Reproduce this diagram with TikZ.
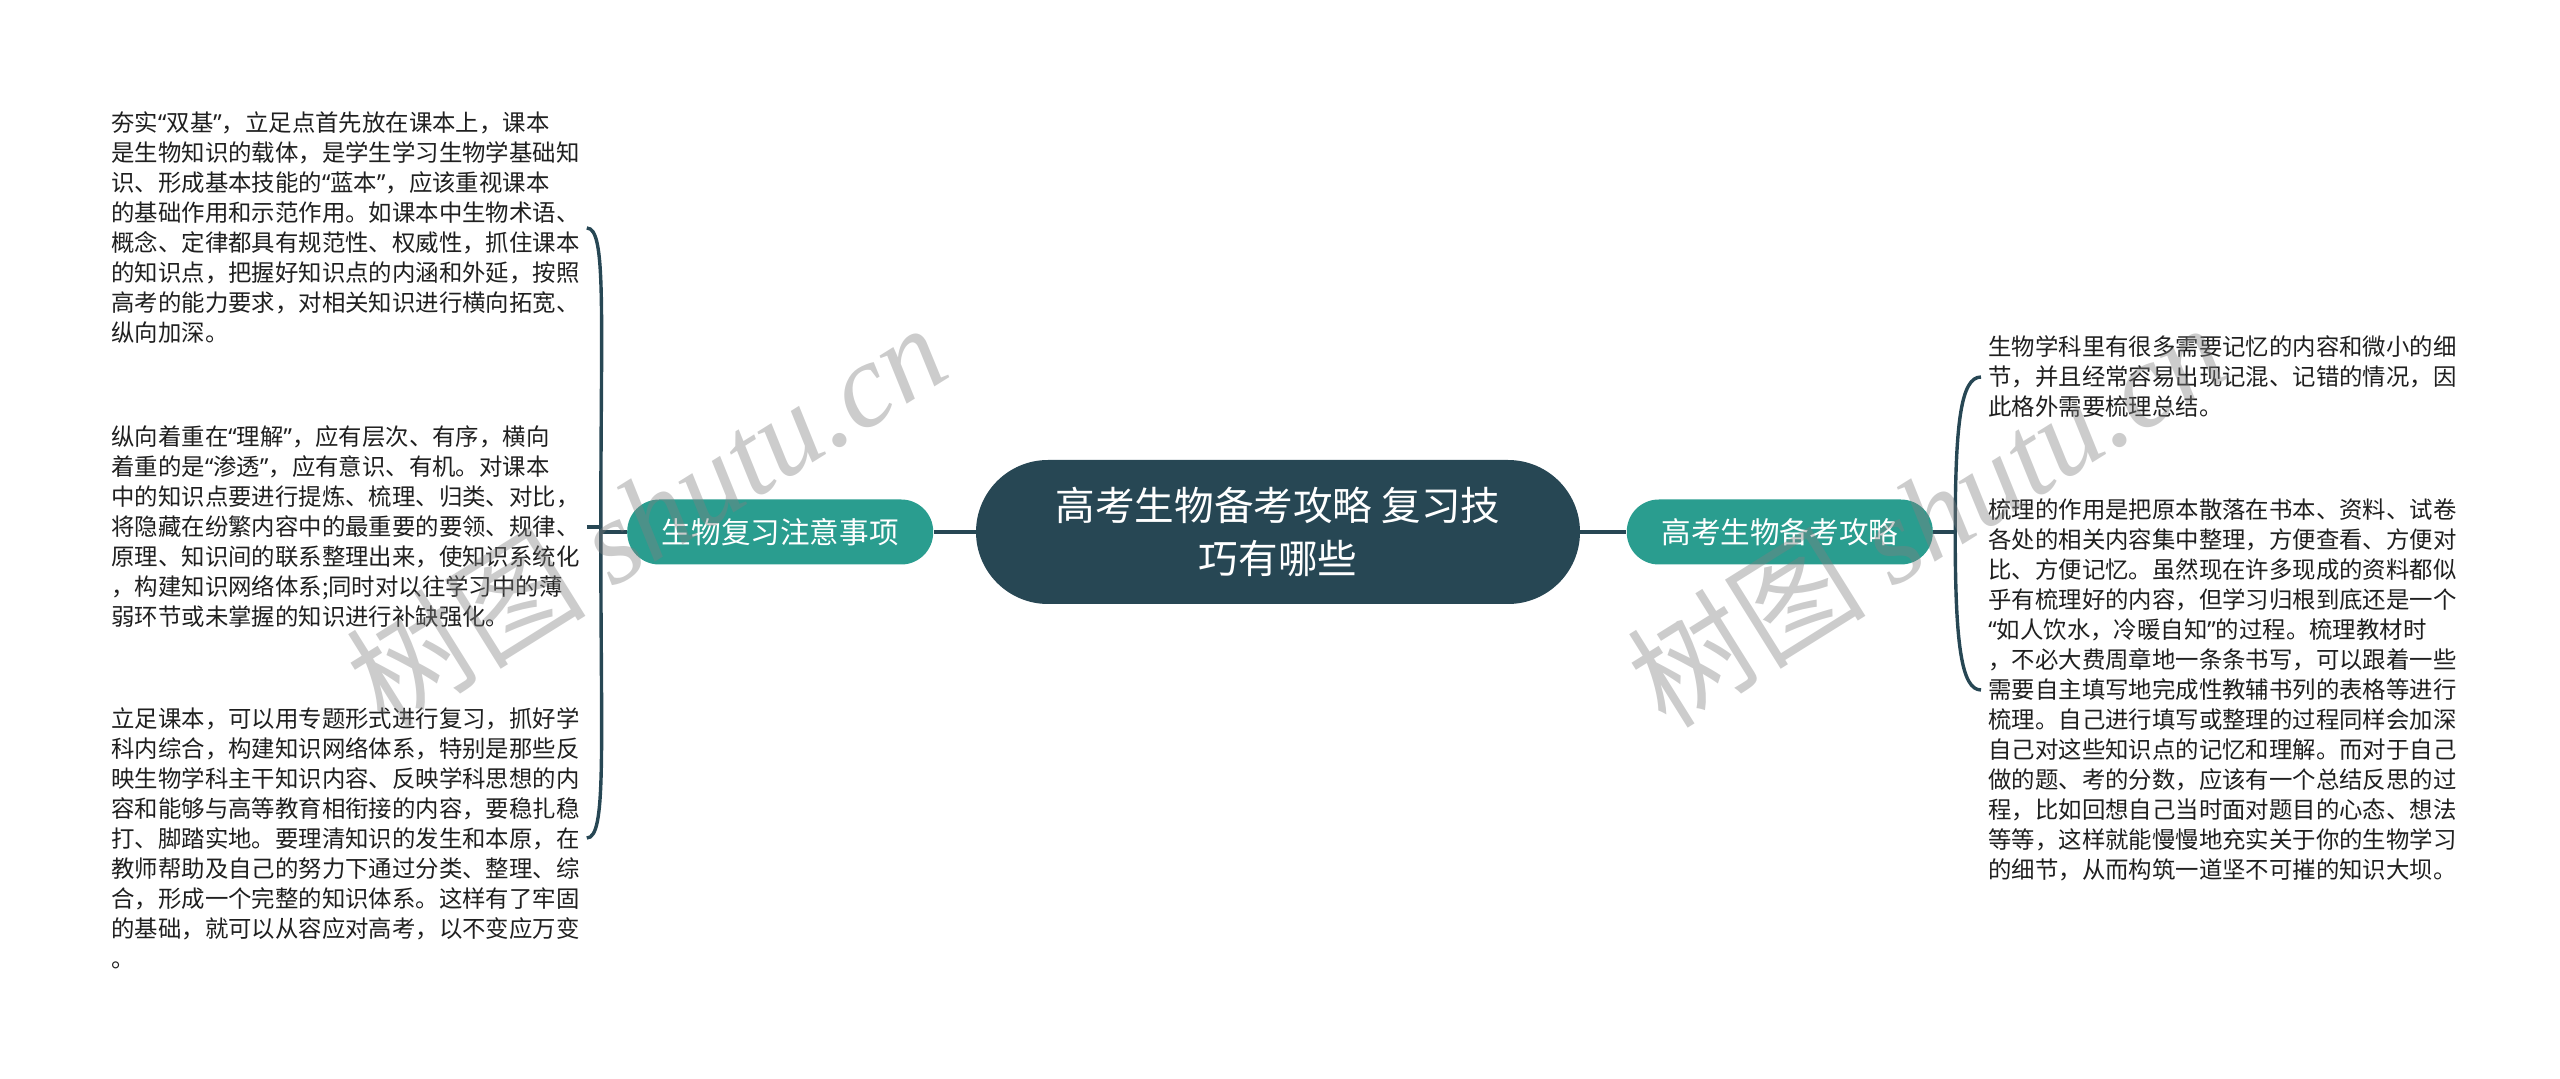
\documentclass[tikz,border=0pt]{standalone}
\usepackage{fontspec}
\setmainfont{Noto Sans CJK SC}
\newfontfamily\wmfont{Liberation Serif}
\newfontfamily\qfont{Noto Sans}
\newcommand\oq{{\qfont “}}
\newcommand\cq{{\qfont ”}}
\usetikzlibrary{positioning}
\definecolor{rootblue}{RGB}{39,71,84}
\definecolor{topicgreen}{RGB}{42,157,143}

\begin{document}
\begin{tikzpicture}[x=0.5pt, y=-0.5pt, node distance=21pt]
		 \tikzstyle{root}  = [rounded corners=36pt, fill=rootblue, text=white, minimum width=302pt, minimum height=72pt, align=center, font=\fontsize{19.8}{26.5}\selectfont];
		 \tikzstyle{topic} = [rounded corners=16pt, fill=topicgreen, text=white, minimum width=153pt, minimum height=32.5pt, font=\fontsize{14.8}{18}\selectfont];
		 \tikzstyle{leaf}  = [anchor=west, align=left, inner xsep=3.5pt, inner ysep=2pt, text=black!88, font=\fontsize{11.7}{15}\selectfont];
		 \tikzstyle{link}  = [color=rootblue, line width=1.7pt];
		 \tikzstyle{wmark} = [rotate=32, text=gray, text opacity=0.4, font=\fontsize{60}{64}\selectfont];

		 \useasboundingbox (0,0) rectangle (2560,1079);

		 \node [root]  (main) at (1278,532)              {高考生物备考攻略 复习技\\巧有哪些};
		 \node [topic] (lt)   [left=21pt of main]        {生物复习注意事项};
		 \node [topic] (rt)   [right=23pt of main]       {高考生物备考攻略};
		 \coordinate   [left=13pt of lt]  (jl);
		 \coordinate   [right=11pt of rt] (jr);

		 \node [leaf] (l1) at (104,228) {夯实\oq 双基\cq ，立足点首先放在课本上，课本\\是生物知识的载体，是学生学习生物学基础知\\识、形成基本技能的\oq 蓝本\cq ，应该重视课本\\的基础作用和示范作用。如课本中生物术语、\\概念、定律都具有规范性、权威性，抓住课本\\的知识点，把握好知识点的内涵和外延，按照\\高考的能力要求，对相关知识进行横向拓宽、\\纵向加深。};
		 \node [leaf] (l2) at (104,527) {纵向着重在\oq 理解\cq ，应有层次、有序，横向\\着重的是\oq 渗透\cq ，应有意识、有机。对课本\\中的知识点要进行提炼、梳理、归类、对比，\\将隐藏在纷繁内容中的最重要的要领、规律、\\原理、知识间的联系整理出来，使知识系统化\\，构建知识网络体系;同时对以往学习中的薄\\弱环节或未掌握的知识进行补缺强化。};
		 \node [leaf] (l3) at (104,838) {立足课本，可以用专题形式进行复习，抓好学\\科内综合，构建知识网络体系，特别是那些反\\映生物学科主干知识内容、反映学科思想的内\\容和能够与高等教育相衔接的内容，要稳扎稳\\打、脚踏实地。要理清知识的发生和本原，在\\教师帮助及自己的努力下通过分类、整理、综\\合，形成一个完整的知识体系。这样有了牢固\\的基础，就可以从容应对高考，以不变应万变\\。};
		 \node [leaf] (r1) at (1981,377) {生物学科里有很多需要记忆的内容和微小的细\\节，并且经常容易出现记混、记错的情况，因\\此格外需要梳理总结。};
		 \node [leaf] (r2) at (1981,690) {梳理的作用是把原本散落在书本、资料、试卷\\各处的相关内容集中整理，方便查看、方便对\\比、方便记忆。虽然现在许多现成的资料都似\\乎有梳理好的内容，但学习归根到底还是一个\\\oq 如人饮水，冷暖自知\cq 的过程。梳理教材时\\，不必大费周章地一条条书写，可以跟着一些\\需要自主填写地完成性教辅书列的表格等进行\\梳理。自己进行填写或整理的过程同样会加深\\自己对这些知识点的记忆和理解。而对于自己\\做的题、考的分数，应该有一个总结反思的过\\程，比如回想自己当时面对题目的心态、想法\\等等，这样就能慢慢地充实关于你的生物学习\\的细节，从而构筑一道坚不可摧的知识大坝。};

		 \path [link] (main) edge (lt)
		                     edge (rt)
		              (lt)   edge (jl)
		              (rt)   edge (jr)
		              (jl)   edge [out=90,  in=0, out distance=110pt, in distance=10pt] (l1.east)
		                     edge [out=270, in=0, out distance=110pt, in distance=10pt] (l3.east)
		              (l2.east) edge (l2.east -| jl)
		              (jr)   edge [out=90,  in=180, out distance=55pt, in distance=10pt] (r1.west)
		                     edge [out=270, in=180, out distance=55pt, in distance=10pt] (r2.west);

		 \node [wmark] (wm1) at (646,514)  {树图 {\wmfont\itshape shutu.cn}};
		 \node [wmark] (wm2) at (1926,514) {树图 {\wmfont\itshape shutu.cn}};
\end{tikzpicture}
\end{document}
